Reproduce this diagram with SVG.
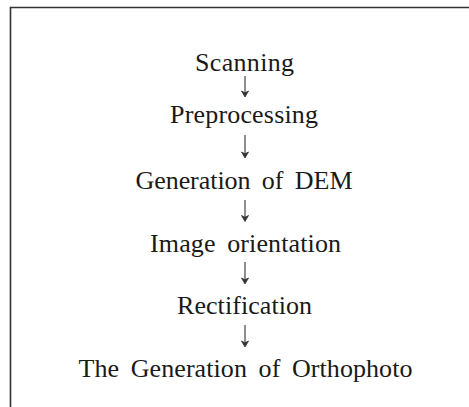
<svg xmlns="http://www.w3.org/2000/svg" width="469" height="407" viewBox="0 0 469 407">
<style>
.lbl{font-family:"Liberation Serif","Times New Roman",serif;font-size:26px;fill:#1a1a1a;text-anchor:middle;word-spacing:5px}
.frame{fill:none;stroke:#333;stroke-width:1.6}
.stem{stroke:#333;stroke-width:1.1;fill:none}
.head{stroke:#333;stroke-width:0.8;fill:#333;stroke-linejoin:round}
</style>
<rect width="469" height="407" fill="#fff"/>
<path class="frame" d="M10.5,407 V7.5 H469"/>
<g id="connectors">
<line class="stem" x1="245" y1="76" x2="245" y2="95"/>
<path class="head" d="M241.5,91 L245,97 L248.5,91 L245,92.8 Z"/>
<line class="stem" x1="245" y1="135" x2="245" y2="156"/>
<path class="head" d="M241.5,152 L245,158 L248.5,152 L245,153.8 Z"/>
<line class="stem" x1="245" y1="200" x2="245" y2="219.5"/>
<path class="head" d="M241.5,215.5 L245,221.5 L248.5,215.5 L245,217.3 Z"/>
<line class="stem" x1="245" y1="262" x2="245" y2="282"/>
<path class="head" d="M241.5,278 L245,284 L248.5,278 L245,279.8 Z"/>
<line class="stem" x1="245" y1="325" x2="245" y2="345"/>
<path class="head" d="M241.5,341 L245,347 L248.5,341 L245,342.8 Z"/>
</g>
<g id="n1"><text class="lbl" x="244.5" y="71" textLength="99" lengthAdjust="spacing">Scanning</text></g>
<g id="n2"><text class="lbl" x="244" y="122.7" textLength="148" lengthAdjust="spacing">Preprocessing</text></g>
<g id="n3"><text class="lbl" x="244" y="188.5" textLength="217" lengthAdjust="spacing">Generation of DEM</text></g>
<g id="n4"><text class="lbl" x="245.5" y="251.7" textLength="191" lengthAdjust="spacing">Image orientation</text></g>
<g id="n5"><text class="lbl" x="244.5" y="314" textLength="135" lengthAdjust="spacing">Rectification</text></g>
<g id="n6"><text class="lbl" x="245.5" y="376.7" textLength="334" lengthAdjust="spacing">The Generation of Orthophoto</text></g>
</svg>
